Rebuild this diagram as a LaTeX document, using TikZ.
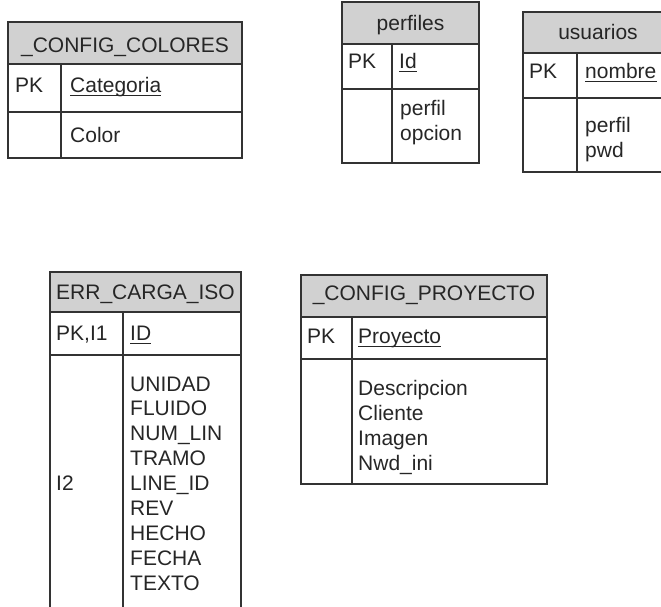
\documentclass[tikz,border=0pt]{standalone}
\usepackage{fontspec}
\setmainfont{Liberation Sans}
\begin{document}
\begin{tikzpicture}[x=1pt,y=-1pt,
    tbl/.style={draw=black!80, line width=1.7pt},
    hdr/.style={tbl, fill=black!18},
    txt/.style={inner sep=0pt, anchor=base west, text=black!85, font=\fontsize{21}{24}\selectfont},
    ttl/.style={txt, anchor=base},
    key/.style={draw=black!85, line width=1pt}]
\useasboundingbox (0,0) rectangle (661,606);
\clip (0,0) rectangle (661,606);
% _CONFIG_COLORES
\draw[hdr] (8,22) rectangle (242,64);
\draw[tbl] (8,64) rectangle (242,158);
\draw[tbl] (8,112) -- (242,112);
\draw[tbl] (61,64) -- (61,158);
\node[ttl] (colT) at (125,52) {\_CONFIG\_COLORES};
\node[txt] (colPK) at (15,92) {PK};
\node[txt] (colCat) at (70,92) {Categoria};
\node[txt] (colColor) at (70,142) {Color};
\draw[key] ([yshift=-3pt]colCat.base west) -- ([yshift=-3pt]colCat.base east);
% perfiles
\draw[hdr] (342,2) rectangle (479,44);
\draw[tbl] (342,44) rectangle (479,163);
\draw[tbl] (342,89) -- (479,89);
\draw[tbl] (392,44) -- (392,163);
\node[ttl] (perT) at (410.5,30) {perfiles};
\node[txt] (perPK) at (348,68) {PK};
\node[txt] (perId) at (399,68) {Id};
\draw[key] ([yshift=-3pt]perId.base west) -- ([yshift=-3pt]perId.base east);
\foreach \f [count=\i from 0] in {perfil,opcion}
  \node[txt] (per\i) at (400,{115+\i*25}) {\f};
% usuarios
\draw[hdr] (523,12) rectangle (673,53);
\draw[tbl] (523,53) rectangle (673,172);
\draw[tbl] (523,98) -- (673,98);
\draw[tbl] (577,53) -- (577,172);
\node[ttl] (usuT) at (598,39) {usuarios};
\node[txt] (usuPK) at (529,78) {PK};
\node[txt] (usuNom) at (585,78) {nombre};
\draw[key] ([yshift=-3pt]usuNom.base west) -- ([yshift=-3pt]usuNom.base east);
\foreach \f [count=\i from 0] in {perfil,pwd}
  \node[txt] (usu\i) at (585,{132+\i*25}) {\f};
% ERR_CARGA_ISO
\draw[hdr] (50,272) rectangle (241,312);
\draw[tbl] (50,312) rectangle (241,620);
\draw[tbl] (50,355) -- (241,355);
\draw[tbl] (123,312) -- (123,620);
\node[ttl] (errT) at (145.5,299) {ERR\_CARGA\_ISO};
\node[txt] (errPK) at (56,340) {PK,I1};
\node[txt] (errID) at (130,340) {ID};
\draw[key] ([yshift=-3pt]errID.base west) -- ([yshift=-3pt]errID.base east);
\foreach \f [count=\i from 0] in {UNIDAD,FLUIDO,NUM\_LIN,TRAMO,LINE\_ID,REV,HECHO,FECHA,TEXTO}
  \node[txt] (err\i) at (130,{391+\i*24.9}) {\f};
\node[txt] (errI2) at (56,{391+4*24.9}) {I2};
% _CONFIG_PROYECTO
\draw[hdr] (301,275) rectangle (547,317);
\draw[tbl] (301,317) rectangle (547,484);
\draw[tbl] (301,359) -- (547,359);
\draw[tbl] (352,317) -- (352,484);
\node[ttl] (proT) at (424,300) {\_CONFIG\_PROYECTO};
\node[txt] (proPK) at (307,343) {PK};
\node[txt] (proKey) at (358,343) {Proyecto};
\draw[key] ([yshift=-3pt]proKey.base west) -- ([yshift=-3pt]proKey.base east);
\foreach \f [count=\i from 0] in {Descripcion,Cliente,Imagen,Nwd\_ini}
  \node[txt] (pro\i) at (358,{395+\i*25}) {\f};
\end{tikzpicture}
\end{document}
